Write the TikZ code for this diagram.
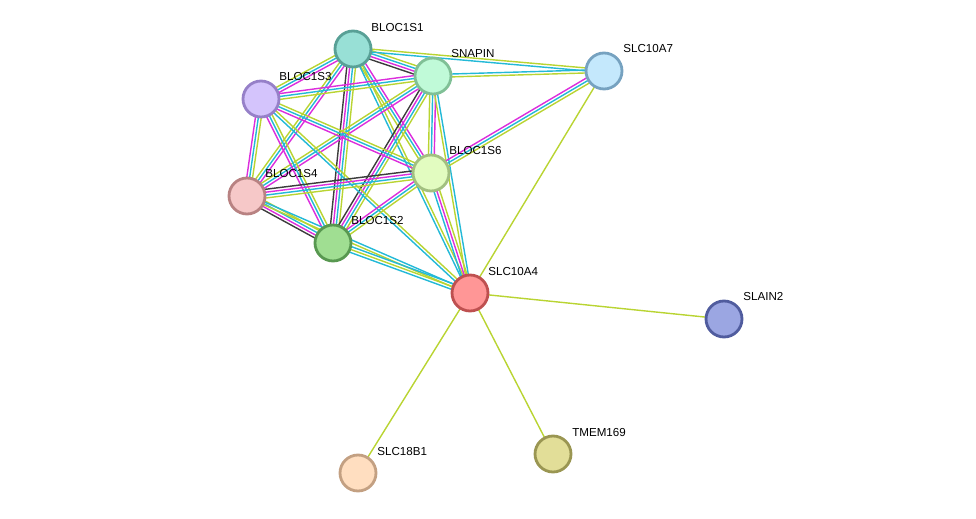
\documentclass[tikz,border=0pt]{standalone}
\usepackage{fontspec}
\setmainfont{Liberation Sans}
\usetikzlibrary{calc, backgrounds}
\usepackage{xcolor}
\definecolor{evcyan}{RGB}{35,185,215}
\definecolor{evmag}{RGB}{220,45,220}
\definecolor{evyel}{RGB}{185,212,50}
\definecolor{evgray}{RGB}{60,60,60}

% one coloured line per evidence channel, side by side
\newcommand{\evlink}[3]{%
  \foreach \col [count=\k] in {#3} {\xdef\nlines{\k}}
  \foreach \col [count=\k] in {#3} {
    \pgfmathsetmacro\off{(\k-(\nlines+1)/2)*1.65}
    \draw[\col, line width=0.8pt]
      ($(#1.center)!\off pt!90:(#2.center)$) -- ($(#2.center)!\off pt!-90:(#1.center)$);
  }}

\begin{document}
\begin{tikzpicture}[x=0.02cm, y=-0.02cm,
    prot/.style 2 args={circle, draw=#2, fill=#1, line width=1.6pt,
                 minimum size=0.72cm, inner sep=0pt},
    lbl/.style={anchor=west, inner sep=0pt, font=\fontsize{6.6}{7.5}\selectfont}]
  \useasboundingbox (0,0) rectangle (976,519);

  % proteins
  \definecolor{cS1}{RGB}{152,224,214}  \definecolor{bS1}{RGB}{88,160,150}
  \definecolor{cSN}{RGB}{192,250,216}  \definecolor{bSN}{RGB}{128,192,150}
  \definecolor{cS7}{RGB}{196,232,252}  \definecolor{bS7}{RGB}{118,162,192}
  \definecolor{cS3}{RGB}{212,196,252}  \definecolor{bS3}{RGB}{150,128,200}
  \definecolor{cS6}{RGB}{226,252,192}  \definecolor{bS6}{RGB}{162,192,128}
  \definecolor{cS4}{RGB}{246,200,200}  \definecolor{bS4}{RGB}{184,130,130}
  \definecolor{cS2}{RGB}{160,222,146}  \definecolor{bS2}{RGB}{88,152,80}
  \definecolor{cA4}{RGB}{255,150,150}  \definecolor{bA4}{RGB}{190,80,80}
  \definecolor{cSL}{RGB}{155,166,226}  \definecolor{bSL}{RGB}{80,92,158}
  \definecolor{cTM}{RGB}{226,222,152}  \definecolor{bTM}{RGB}{154,150,82}
  \definecolor{cB1}{RGB}{255,222,192}  \definecolor{bB1}{RGB}{195,160,130}

  \node[prot={cS1}{bS1}] (s1) at (353,49) {};
  \node[prot={cSN}{bSN}] (snap) at (433,76) {};
  \node[prot={cS7}{bS7}] (s7) at (604,71) {};
  \node[prot={cS3}{bS3}] (s3) at (261,99) {};
  \node[prot={cS6}{bS6}] (s6) at (431,173) {};
  \node[prot={cS4}{bS4}] (s4) at (247,196) {};
  \node[prot={cS2}{bS2}] (s2) at (333,243) {};
  \node[prot={cA4}{bA4}] (a4) at (470,293) {};
  \node[prot={cSL}{bSL}] (slain) at (724,319) {};
  \node[prot={cTM}{bTM}] (tmem) at (553,454) {};
  \node[prot={cB1}{bB1}] (b1) at (358,473) {};

  \node[lbl] (ls1) at (371,28) {BLOC1S1};
  \node[lbl] (lsnap) at (451,54) {SNAPIN};
  \node[lbl] (ls7) at (623,49) {SLC10A7};
  \node[lbl] (ls3) at (279,77) {BLOC1S3};
  \node[lbl] (ls6) at (449,151) {BLOC1S6};
  \node[lbl] (ls4) at (265,174) {BLOC1S4};
  \node[lbl] (ls2) at (351,221) {BLOC1S2};
  \node[lbl] (la4) at (488,272) {SLC10A4};
  \node[lbl] (lslain) at (743,297) {SLAIN2};
  \node[lbl] (ltmem) at (572,433) {TMEM169};
  \node[lbl] (lb1) at (377,452) {SLC18B1};

  % interactions
  \begin{pgfonlayer}{background}
    \evlink{s1}{snap}{evgray,evmag,evcyan,evyel}
    \evlink{s1}{s3}{evyel,evcyan,evmag}
    \evlink{s1}{s6}{evyel,evcyan,evmag}
    \evlink{s1}{s4}{evyel,evcyan,evmag}
    \evlink{s1}{s2}{evgray,evmag,evcyan,evyel}
    \evlink{s1}{s7}{evcyan,evyel}
    \evlink{s1}{a4}{evcyan,evyel}
    \evlink{snap}{s3}{evmag,evcyan,evyel}
    \evlink{snap}{s6}{evyel,evcyan,evmag}
    \evlink{snap}{s4}{evyel,evcyan,evmag}
    \evlink{snap}{s2}{evgray,evmag,evcyan,evyel}
    \evlink{snap}{s7}{evyel,evcyan}
    \evlink{snap}{a4}{evyel,evcyan}
    \evlink{s3}{s6}{evmag,evcyan,evyel}
    \evlink{s3}{s4}{evmag,evcyan,evyel}
    \evlink{s3}{s2}{evmag,evcyan,evyel}
    \evlink{s3}{a4}{evcyan,evyel}
    \evlink{s6}{s4}{evgray,evmag,evcyan,evyel}
    \evlink{s6}{s2}{evmag,evcyan,evyel}
    \evlink{s6}{s7}{evyel,evcyan,evmag}
    \evlink{s6}{a4}{evcyan,evmag,evyel}
    \evlink{s4}{s2}{evgray,evmag,evcyan,evyel}
    \evlink{s4}{a4}{evyel,evcyan}
    \evlink{s2}{a4}{evcyan,evyel,evcyan}
    \evlink{s7}{a4}{evyel}
    \evlink{a4}{slain}{evyel}
    \evlink{a4}{tmem}{evyel}
    \evlink{a4}{b1}{evyel}
  \end{pgfonlayer}
\end{tikzpicture}
\end{document}
